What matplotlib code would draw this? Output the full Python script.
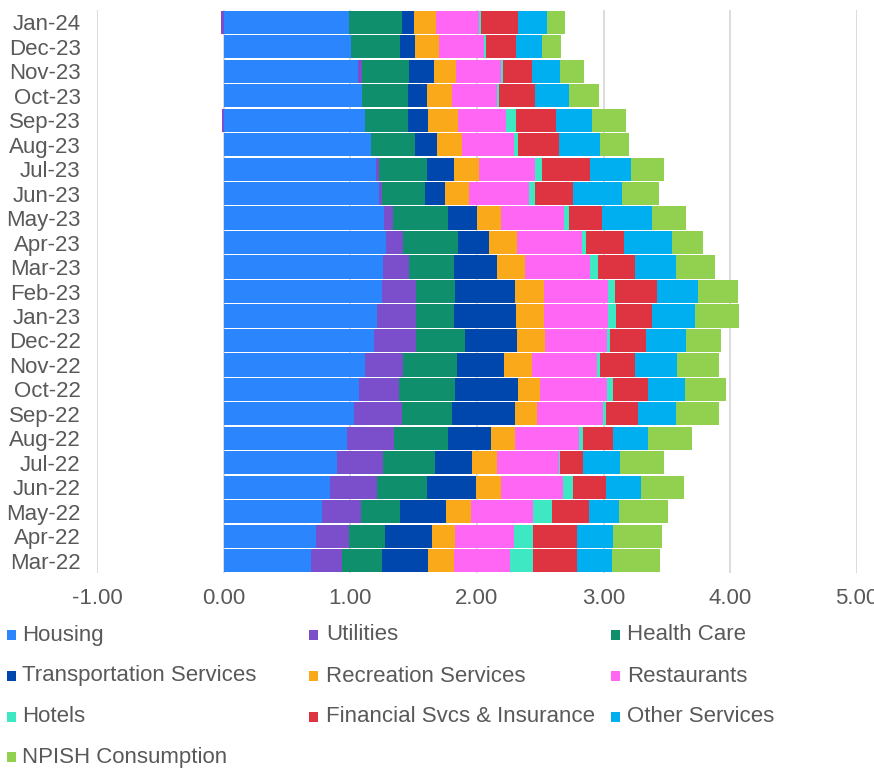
import numpy as np
import matplotlib
matplotlib.use("Agg")
import matplotlib.pyplot as plt
from matplotlib.patches import Rectangle

plt.rcParams['font.family'] = ['Liberation Sans', 'DejaVu Sans']

months = ["Jan-24", "Dec-23", "Nov-23", "Oct-23", "Sep-23", "Aug-23", "Jul-23",
          "Jun-23", "May-23", "Apr-23", "Mar-23", "Feb-23", "Jan-23", "Dec-22",
          "Nov-22", "Oct-22", "Sep-22", "Aug-22", "Jul-22", "Jun-22", "May-22",
          "Apr-22", "Mar-22"]

series_names = ["Housing", "Utilities", "Health Care", "Transportation Services",
                "Recreation Services", "Restaurants", "Hotels",
                "Financial Svcs & Insurance", "Other Services", "NPISH Consumption"]

series_colors = ["#2b86fe", "#7b4fcb", "#0f8f6b", "#0047ad", "#f9a91a",
                 "#ff66f4", "#3de8c2", "#de3340", "#00aff0", "#92d050"]

# contributions, one list per series, months ordered Jan-24 ... Mar-22
housing = [0.985, 1.005, 1.060, 1.092, 1.118, 1.159, 1.203, 1.229, 1.267, 1.279,
           1.258, 1.253, 1.212, 1.186, 1.118, 1.069, 1.025, 0.970, 0.894, 0.836,
           0.775, 0.725, 0.687]
utilities = [-0.023, 0.000, 0.032, 0.000, -0.015, 0.000, 0.023, 0.020, 0.070, 0.137,
             0.201, 0.268, 0.309, 0.329, 0.297, 0.315, 0.385, 0.376, 0.364, 0.370,
             0.312, 0.265, 0.248]
health_care = [0.425, 0.387, 0.373, 0.361, 0.335, 0.350, 0.376, 0.341, 0.431, 0.434,
               0.358, 0.306, 0.297, 0.393, 0.428, 0.443, 0.396, 0.425, 0.411, 0.402,
               0.306, 0.285, 0.315]
transportation = [0.090, 0.120, 0.192, 0.149, 0.163, 0.175, 0.213, 0.160, 0.230, 0.245,
                  0.338, 0.472, 0.492, 0.408, 0.373, 0.498, 0.492, 0.338, 0.291, 0.385,
                  0.364, 0.367, 0.361]
recreation = [0.175, 0.186, 0.175, 0.200, 0.230, 0.200, 0.204, 0.190, 0.195, 0.221,
              0.221, 0.233, 0.221, 0.218, 0.218, 0.172, 0.178, 0.192, 0.195, 0.198,
              0.195, 0.186, 0.204]
restaurants = [0.340, 0.361, 0.358, 0.355, 0.387, 0.408, 0.440, 0.469, 0.498, 0.510,
               0.513, 0.501, 0.504, 0.495, 0.516, 0.527, 0.518, 0.501, 0.495, 0.489,
               0.489, 0.463, 0.443]
hotels = [0.017, 0.012, 0.017, 0.017, 0.073, 0.029, 0.058, 0.050, 0.032, 0.035,
          0.067, 0.061, 0.067, 0.020, 0.020, 0.050, 0.023, 0.032, 0.003, 0.079,
          0.151, 0.149, 0.184]
financial = [0.290, 0.236, 0.227, 0.288, 0.318, 0.330, 0.373, 0.300, 0.268, 0.303,
             0.291, 0.332, 0.280, 0.283, 0.277, 0.277, 0.256, 0.239, 0.184, 0.259,
             0.291, 0.350, 0.350]
other_services = [0.233, 0.210, 0.224, 0.268, 0.285, 0.323, 0.326, 0.385, 0.390, 0.379,
                  0.326, 0.323, 0.341, 0.318, 0.335, 0.291, 0.303, 0.277, 0.291, 0.274,
                  0.242, 0.285, 0.277]
npish = [0.140, 0.149, 0.189, 0.233, 0.271, 0.230, 0.265, 0.294, 0.271, 0.245,
         0.306, 0.315, 0.350, 0.280, 0.329, 0.323, 0.335, 0.347, 0.350, 0.341,
         0.382, 0.387, 0.373]

series_values = [housing, utilities, health_care, transportation, recreation,
                 restaurants, hotels, financial, other_services, npish]

TEXT = "#595959"
FS = 16

fig = plt.figure(figsize=(8.74, 7.75), dpi=100)
W, H = 874, 775
ax = fig.add_axes([97.3 / W, 1 - 573 / H, 759.4 / W, 563 / H])

n = len(months)
y = np.arange(n)[::-1]  # first month on top
pos_base = np.zeros(n)
neg_base = np.zeros(n)
for vals, color, name in zip(series_values, series_colors, series_names):
    v = np.asarray(vals, dtype=float)
    left = np.where(v >= 0, pos_base, neg_base)
    ax.barh(y, v, left=left, height=0.945, color=color, label=name,
            linewidth=0, zorder=3)
    pos_base = pos_base + np.where(v > 0, v, 0)
    neg_base = neg_base + np.where(v < 0, v, 0)

ax.set_xlim(-1, 5)
ax.set_ylim(-0.5, n - 0.5)
ax.set_xticks(np.arange(-1, 6, 1))
ax.set_xticklabels([f"{t:.2f}" for t in np.arange(-1, 6, 1)])
ax.set_yticks(y)
ax.set_yticklabels(months)
ax.tick_params(axis='both', length=0, labelsize=FS, labelcolor=TEXT)
ax.tick_params(axis='y', pad=12)
ax.tick_params(axis='x', pad=11)
ax.grid(axis='x', color="#d9d9d9", linewidth=1.3, zorder=0)
ax.grid(axis='y', visible=False)
for s in ax.spines.values():
    s.set_visible(False)

# legend laid out in rows of three
marker_x = [7, 309, 611]
text_x = [22, 326, 627]
row_y = [635, 676, 717, 757]
for i, (name, color) in enumerate(zip(series_names, series_colors)):
    r, c = divmod(i, 3)
    cy = row_y[r]
    fig.add_artist(Rectangle((marker_x[c] / W, 1 - (cy + 5) / H), 9 / W, 10 / H,
                             transform=fig.transFigure, facecolor=color,
                             edgecolor='none'))
    fig.text(text_x[c] / W, 1 - cy / H, name, fontsize=FS, color=TEXT,
             ha='left', va='center')

fig.savefig("out.png", dpi=100, facecolor="white")
